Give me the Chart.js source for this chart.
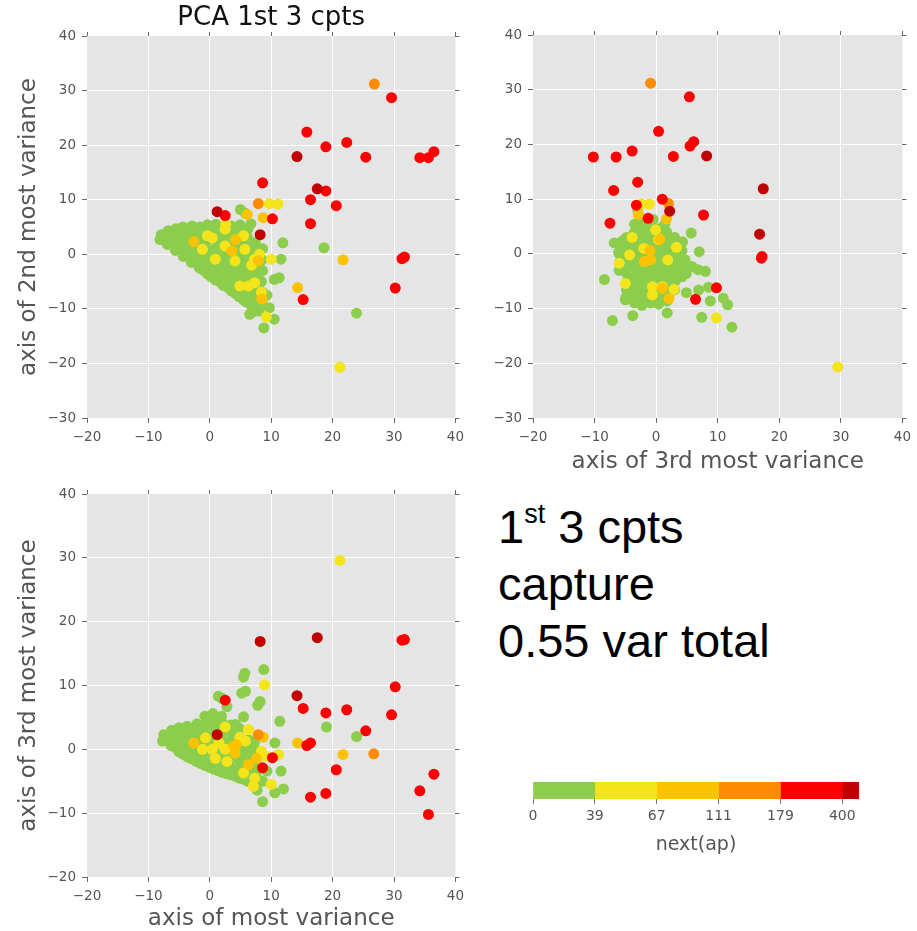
<!DOCTYPE html>
<html>
<head>
<meta charset="utf-8">
<script src="https://cdn.jsdelivr.net/npm/chart.js@4.4.1/dist/chart.umd.min.js"></script>
<style>
  html, body { margin: 0; padding: 0; background: #fff; overflow: hidden; width: 917px; height: 931px; }
  canvas { position: absolute; }
  #note { position: absolute; left: 498px; top: 498px; font-family: "Liberation Sans", Arial, sans-serif; font-size: 47px; line-height: 57px; color: #000; white-space: nowrap; }
  #note .sup { font-size: 27px; line-height: 1; position: relative; top: -20px; }
</style>
</head>
<body>
<canvas id="pcaTopLeft" width="470" height="450" style="left:0;top:0"></canvas>
<canvas id="pcaTopRight" width="447" height="480" style="left:470px;top:0"></canvas>
<canvas id="pcaBottomLeft" width="470" height="461" style="left:0;top:470px"></canvas>
<div id="note">1<span class="sup">st</span> 3 cpts<br>capture<br>0.55 var total</div>
<canvas id="nextApBar" width="417" height="110" style="left:500px;top:760px"></canvas>
<script>
// classes of next(ap), low -> high
const classColors = ["#8cce4c", "#f4e41c", "#fec300", "#fd8c00", "#fe0000", "#c10000"];
const colorbarTicks = ["0", "39", "67", "111", "179", "400"];
const colorbarSpans = [1, 1, 1, 1, 1, 0.27];

// top left: axis of most variance (x) vs 2nd most variance (y)
const pc12Green = [
  [-8.1,2.7],[-7.9,3.6],
  [-6.9,1.8],[-7.0,3.2],[-6.8,4.3],
  [-5.6,0.7],[-5.5,2.2],[-5.7,3.6],[-5.5,4.7],
  [-4.3,-0.4],[-4.4,1.1],[-4.2,2.6],[-4.3,4.0],[-4.4,5.0],
  [-3.0,-1.5],[-3.1,0.0],[-2.9,1.5],[-3.0,3.0],[-3.1,4.4],[-2.9,5.2],
  [-1.7,-2.5],[-1.8,-1.0],[-1.6,0.5],[-1.7,2.0],[-1.8,3.5],[-1.6,5.0],
  [-0.4,-3.6],[-0.5,-2.1],[-0.3,-0.6],[-0.4,0.9],[-0.5,2.4],[-0.3,3.9],[-0.4,5.4],
  [0.9,-4.7],[1.0,-3.2],[0.8,-1.7],[0.9,-0.2],[1.1,1.3],[0.9,2.8],[0.8,4.3],[1.0,5.5],
  [2.2,-5.7],[2.3,-4.2],[2.1,-2.7],[2.2,-1.2],[2.4,0.3],[2.2,1.8],[2.1,3.3],[2.3,4.8],
  [3.5,-6.7],[3.6,-5.2],[3.4,-3.7],[3.5,-2.2],[3.7,-0.7],[3.5,0.8],[3.4,2.3],[3.6,3.8],[3.5,5.2],
  [4.8,-7.8],[4.9,-6.3],[4.7,-4.8],[4.8,-3.3],[5.0,-1.8],[4.8,-0.3],[4.7,1.2],[4.9,2.7],[4.8,4.2],[4.9,5.4],
  [6.1,-8.8],[6.2,-7.3],[6.0,-5.8],[6.1,-4.3],[6.3,-2.8],[6.1,-1.3],[6.0,0.2],[6.2,1.7],[6.1,3.2],[6.2,4.6],
  [7.4,-9.8],[7.5,-8.3],[7.3,-6.8],[7.4,-5.3],[7.6,-3.8],[7.4,-2.3],[7.3,-0.8],[7.5,0.7],[7.4,2.2],
  [8.5,-9.0],[8.6,-7.0],[8.4,-5.0],[8.6,-3.0],[8.5,-1.0],[8.6,1.0],
  [-6.3,2.6],[-5.0,1.5],[-3.7,0.8],[-3.7,2.3],[-2.4,-0.7],[-2.3,3.7],[-1.1,-2.9],[-1.0,1.3],
  [0.2,-4.1],[0.3,3.1],[1.6,-5.0],[1.5,0.5],[2.9,-6.0],[2.8,4.1],[4.2,-7.2],[4.1,-1.5],
  [5.5,-8.4],[5.4,3.5],[6.8,-9.5],[6.7,-5.0],[8.0,-10.4],[8.0,-2.0],
  [5.0,8.2],[5.8,7.5],[6.7,5.6],[11.9,2.1],[11.6,-0.9],[11.3,-4.3],[10.5,-4.6],[9.7,-9.8],
  [10.5,-11.9],[8.8,-13.5],[6.5,-11.0],[18.6,1.2],[23.9,-10.8],[7.0,-10.6],[9.3,-7.5]
];
const pc12Yellow = [
  [9.7,9.3],[11.1,9.2],[2.5,4.6],[2.6,5.5],[5.5,3.4],[-1.2,0.9],[-0.4,3.4],[0.4,3.0],[0.9,-0.9],
  [2.5,1.5],[4.1,-1.2],[5.7,0.9],[7.3,-0.9],[8.1,0.0],[10.0,-0.9],[4.9,-5.8],[6.3,-5.8],
  [7.3,-5.2],[8.4,-7.0],[9.2,-11.5],[21.2,-20.7],[6.8,-2.0]
];
const pc12Gold = [[6.1,7.3],[8.7,6.7],[4.2,2.7],[-2.6,2.3],[3.6,0.6],[7.9,-1.2],[21.7,-1.0],[14.3,-6.1],[8.5,-8.2]];
const pc12Orange = [[26.8,31.2],[7.9,9.3]];
const pc12Red = [
  [29.6,28.7],[15.8,22.4],[18.9,19.7],[22.3,20.5],[25.4,17.8],[34.2,17.7],[35.6,17.7],[36.5,18.8],
  [8.6,13.1],[18.9,11.6],[16.4,10.0],[20.6,8.9],[16.4,5.6],[10.2,6.5],[2.5,7.1],[31.3,-0.8],
  [31.7,-0.5],[30.2,-6.2],[15.2,-8.3]
];
const pc12DarkRed = [[14.2,17.9],[17.5,12.0],[1.2,7.8],[8.2,3.6]];

// top right: 3rd most variance (x) vs 2nd most variance (y)
const pc32Green = [
  [-6.0,1.8],[-6.1,0.2],[-5.9,-1.4],[-6.0,-3.0],
  [-4.8,3.0],[-4.9,1.4],[-4.7,-0.2],[-4.8,-1.8],[-4.9,-3.4],[-4.7,-5.0],[-4.8,-6.6],[-4.9,-8.0],
  [-3.5,5.4],[-3.6,3.8],[-3.4,2.2],[-3.5,0.6],[-3.6,-1.0],[-3.4,-2.6],[-3.5,-4.2],[-3.6,-5.8],[-3.4,-7.4],[-3.5,-9.0],
  [-2.2,6.2],[-2.3,4.8],[-2.1,3.2],[-2.2,1.6],[-2.3,0.0],[-2.1,-1.6],[-2.2,-3.2],[-2.3,-4.8],[-2.1,-6.4],[-2.2,-8.0],[-2.3,-9.4],
  [-0.9,5.2],[-1.0,3.6],[-0.8,2.0],[-0.9,0.4],[-1.0,-1.2],[-0.8,-2.8],[-0.9,-4.4],[-1.0,-6.0],[-0.8,-7.6],[-0.9,-9.0],
  [0.4,4.6],[0.3,3.0],[0.5,1.4],[0.4,-0.2],[0.3,-1.8],[0.5,-3.4],[0.4,-5.0],[0.3,-6.6],[0.5,-8.2],[0.4,-9.2],
  [1.7,4.0],[1.6,2.4],[1.8,0.8],[1.7,-0.8],[1.6,-2.4],[1.8,-4.0],[1.7,-5.6],[1.6,-7.2],[1.8,-8.6],
  [3.0,3.0],[2.9,1.4],[3.1,-0.2],[3.0,-1.8],[2.9,-3.4],[3.1,-5.0],[3.0,-6.6],
  [4.3,2.2],[4.2,0.6],[4.4,-1.0],[4.3,-2.6],[4.2,-4.2],
  [-5.4,2.4],[-5.5,-2.5],[-4.2,-7.3],[-2.9,4.5],[-2.8,-8.6],[-1.5,-5.2],[-0.2,-8.5],
  [1.0,-7.9],[2.4,-4.6],[3.6,-4.0],[4.9,-3.6],[2.4,2.0],
  [-8.4,-4.7],[-6.8,2.0],[-3.0,8.0],[-2.6,6.6],[5.7,3.8],[7.0,0.4],[4.7,-1.1],[5.8,-2.3],[6.8,-2.9],
  [8.0,-3.2],[4.9,-7.1],[6.9,-6.6],[8.5,-6.1],[8.8,-8.6],[10.9,-8.1],[11.6,-9.3],[7.4,-11.6],
  [12.3,-13.4],[1.8,-10.8],[-3.8,-11.3],[-7.1,-12.2],[-5.0,-8.4],[1.4,5.4],[-0.5,6.3]
];
const pc32Yellow = [
  [-2.4,9.1],[-1.1,9.1],[-3.9,3.0],[-4.3,-0.2],[-6.0,-1.7],[-5.0,-5.4],[-0.1,4.4],[0.4,2.6],
  [1.9,-1.1],[3.3,1.2],[-0.6,-6.0],[1.0,-6.0],[2.9,-6.5],[-0.6,-7.5],[-2.0,1.0],[9.8,-11.7],[29.5,-20.7]
];
const pc32Gold = [[-2.9,7.2],[1.7,6.4],[0.6,2.7],[-1.0,0.6],[-1.9,-1.4],[-0.9,-1.1],[1.0,-6.3],[2.1,-8.2]];
const pc32Orange = [[-0.9,31.2],[2.0,9.2]];
const pc32Red = [
  [5.4,28.7],[0.4,22.4],[5.5,19.7],[6.1,20.5],[2.8,17.8],[-6.5,17.7],[-10.2,17.7],[-3.9,18.8],
  [-3.0,13.1],[-6.9,11.6],[1.0,10.0],[-3.2,8.9],[-7.5,5.6],[-1.3,6.5],[7.7,7.1],[17.1,-0.8],
  [17.2,-0.5],[9.8,-6.2],[6.4,-8.3]
];
const pc32DarkRed = [[8.2,17.9],[17.4,11.9],[2.2,7.8],[16.8,3.6]];

// bottom left: axis of most variance (x) vs 3rd most variance (y)
const pc13Green = [
  [-7.7,1.3],[-7.5,2.3],
  [-6.3,0.6],[-6.4,1.9],[-6.2,3.0],
  [-5.0,-0.4],[-5.1,0.9],[-4.9,2.2],[-5.0,3.4],
  [-3.6,-1.2],[-3.7,0.1],[-3.5,1.4],[-3.6,2.7],[-3.7,3.6],
  [-2.2,-1.9],[-2.3,-0.6],[-2.1,0.7],[-2.2,2.0],[-2.3,3.3],[-2.1,4.0],
  [-0.8,-2.5],[-0.9,-1.2],[-0.7,0.1],[-0.8,1.4],[-0.9,2.7],[-0.7,4.0],[-0.8,5.2],
  [0.6,-3.1],[0.5,-1.8],[0.7,-0.5],[0.6,0.8],[0.5,2.1],[0.7,3.4],[0.6,4.7],[0.5,5.6],
  [2.0,-3.6],[1.9,-2.3],[2.1,-1.0],[2.0,0.3],[1.9,1.6],[2.1,2.9],[2.0,4.2],[1.9,5.2],
  [3.4,-4.0],[3.3,-2.7],[3.5,-1.4],[3.4,-0.1],[3.3,1.2],[3.5,2.5],[3.4,3.8],
  [4.8,-4.5],[4.7,-3.2],[4.9,-1.9],[4.8,-0.6],[4.7,0.7],[4.9,2.0],[4.8,3.3],
  [6.2,-5.0],[6.1,-3.7],[6.3,-2.4],[6.2,-1.1],[6.1,0.2],[6.3,1.5],
  [7.4,-5.4],[7.5,-4.1],[7.3,-2.8],[7.4,-1.5],[7.5,-0.2],[7.3,1.1],
  [-6.9,1.6],[-5.6,0.3],[-5.7,2.7],[-4.3,-0.8],[-4.3,3.0],[-2.9,-1.5],[-2.9,1.4],[-1.5,-2.2],
  [-1.5,3.3],[-0.1,-2.8],[-0.1,4.6],[1.3,-3.3],[1.2,5.0],[2.7,-3.8],[2.7,3.6],[4.1,-4.2],[5.5,-4.7],[6.8,-5.2],
  [5.5,11.3],[5.7,11.9],[5.2,8.8],[5.8,9.1],[8.2,7.5],[7.8,6.9],[8.8,12.5],[2.0,8.0],[2.8,6.7],
  [5.5,5.1],[4.2,3.9],[11.4,4.4],[10.6,1.0],[11.6,-3.4],[12.0,-6.2],[10.6,-6.8],[8.6,-8.2],
  [19.0,3.5],[23.9,2.0],[8.6,-5.0],[9.3,-3.4],[7.7,-6.4],[1.4,8.3]
];
const pc13Yellow = [
  [21.2,29.6],[8.9,10.1],[2.5,3.5],[6.3,3.1],[4.9,1.9],[5.8,1.3],[-1.2,0.0],[-0.7,1.8],[0.4,0.0],
  [0.9,-1.4],[2.5,0.0],[2.8,-1.9],[8.4,-0.3],[9.0,-1.1],[5.5,-3.7],[7.3,-4.5],[7.1,-5.8],
  [10.0,-5.5],[11.2,-0.8],[1.5,1.0]
];
const pc13Gold = [[21.7,-0.8],[14.3,1.0],[-2.6,1.0],[3.9,0.5],[4.3,0.7],[4.1,-0.6],[8.7,1.9],[6.3,-2.4],[7.6,-1.4]];
const pc13Orange = [[26.7,-0.7],[7.9,2.3]];
const pc13Red = [
  [29.6,5.4],[15.8,0.6],[18.9,5.7],[22.3,6.2],[25.4,2.9],[34.2,-6.5],[35.6,-10.2],[36.5,-3.9],
  [8.6,-2.9],[18.9,-6.9],[16.4,1.0],[20.6,-3.2],[16.4,-7.5],[10.2,-1.3],[2.5,7.7],[31.3,17.1],
  [31.7,17.2],[30.2,9.8],[15.2,6.4]
];
const pc13DarkRed = [[14.2,8.4],[17.5,17.5],[1.2,2.3],[8.2,16.9]];

Chart.defaults.font.family = "'DejaVu Sans', Verdana, sans-serif";

const panelBg = {
  id: "panelBg",
  beforeDraw(chart) {
    const { ctx, chartArea: a } = chart;
    ctx.save();
    ctx.fillStyle = "#e5e5e5";
    ctx.fillRect(a.left, a.top, a.width, a.height);
    ctx.restore();
  }
};

const minus = (v) => (v < 0 ? "\u2212" + (-v) : "" + v);

function mainAxis(position, min, max, size, title, titlePad) {
  const horizontal = position === "bottom";
  return {
    position, min, max,
    border: { display: false },
    ticks: { stepSize: 10, color: "#555", font: { size: 13.5 }, padding: 6, callback: minus },
    grid: {
      color: (c) => (c.tick && (c.tick.value === min || c.tick.value === max) ? "rgba(0,0,0,0)" : "#ffffff"),
      lineWidth: 1, tickColor: "#666", tickLength: 5
    },
    title: title
      ? { display: true, text: title, color: "#555", font: { size: 23, lineHeight: 1 }, padding: titlePad }
      : { display: false },
    afterFit: (s) => { if (horizontal) s.height = size; else s.width = size; }
  };
}

function edgeAxis(position, min, max, size) {
  return {
    position, min, max,
    border: { display: false },
    ticks: { display: false, stepSize: 10 },
    grid: { drawOnChartArea: false, tickColor: "#666", tickLength: 4 },
    afterFit: (s) => { if (position === "top") s.height = size; else s.width = size; }
  };
}

function scatterPanel(id, groups, scales, title) {
  new Chart(document.getElementById(id), {
    type: "scatter",
    data: {
      // later classes sit on top: higher order is drawn first
      datasets: groups.map((pts, i) => ({
        data: pts.map(([x, y]) => ({ x, y })),
        order: groups.length - i,
        backgroundColor: classColors[i],
        borderWidth: 0,
        pointRadius: 5.5,
        pointHoverRadius: 5.5
      }))
    },
    options: {
      responsive: false,
      animation: false,
      events: [],
      plugins: {
        legend: { display: false },
        tooltip: { enabled: false },
        title: title
          ? { display: true, text: title, fullSize: false, color: "#111", font: { size: 26, weight: "normal", lineHeight: 1.2 }, padding: { top: 3, bottom: 1.8 } }
          : { display: false }
      },
      scales
    },
    plugins: [panelBg]
  });
}

scatterPanel("pcaTopLeft",
  [pc12Green, pc12Yellow, pc12Gold, pc12Orange, pc12Red, pc12DarkRed],
  {
    x: mainAxis("bottom", -20, 40, 32),
    y: mainAxis("left", -30, 40, 87, "axis of 2nd most variance", { top: 17.5, bottom: 0 }),
    x2: edgeAxis("top", -20, 40, 0),
    y2: edgeAxis("right", -30, 40, 12)
  },
  "PCA 1st 3 cpts");

scatterPanel("pcaTopRight",
  [pc32Green, pc32Yellow, pc32Gold, pc32Orange, pc32Red, pc32DarkRed],
  {
    x: mainAxis("bottom", -20, 40, 62, "axis of 3rd most variance", { top: 0, bottom: 6.5 }),
    y: mainAxis("left", -30, 40, 63),
    x2: edgeAxis("top", -20, 40, 35),
    y2: edgeAxis("right", -30, 40, 12)
  });

scatterPanel("pcaBottomLeft",
  [pc13Green, pc13Yellow, pc13Gold, pc13Orange, pc13Red, pc13DarkRed],
  {
    x: mainAxis("bottom", -20, 40, 54, "axis of most variance", { top: 0, bottom: 0 }),
    y: mainAxis("left", -20, 40, 87, "axis of 3rd most variance", { top: 17.5, bottom: 0 }),
    x2: edgeAxis("top", -20, 40, 24),
    y2: edgeAxis("right", -20, 40, 12)
  });

new Chart(document.getElementById("nextApBar"), {
  type: "bar",
  data: {
    labels: [""],
    datasets: colorbarSpans.map((w, i) => ({
      data: [w],
      backgroundColor: classColors[i],
      borderWidth: 0,
      barPercentage: 1,
      categoryPercentage: 1
    }))
  },
  options: {
    indexAxis: "y",
    responsive: false,
    animation: false,
    events: [],
    layout: { padding: { left: 33, right: 58, top: 22 } },
    plugins: { legend: { display: false }, tooltip: { enabled: false } },
    scales: {
      x: {
        stacked: true, min: 0, max: colorbarSpans.reduce((a, b) => a + b, 0),
        border: { display: false },
        afterBuildTicks: (s) => { s.ticks = colorbarTicks.map((t, i) => ({ value: i })); },
        ticks: { color: "#555", font: { size: 14 }, padding: 4, autoSkip: false, maxRotation: 0, callback: (v, i) => colorbarTicks[i] },
        grid: { drawOnChartArea: false, tickColor: "#777", tickLength: 5 },
        title: { display: true, text: "next(ap)", color: "#555", font: { size: 19, lineHeight: 1 }, padding: { top: 0, bottom: 15.5 } },
        afterFit: (s) => { s.height = 71; }
      },
      y: { stacked: true, display: false }
    }
  }
});
</script>
</body>
</html>
